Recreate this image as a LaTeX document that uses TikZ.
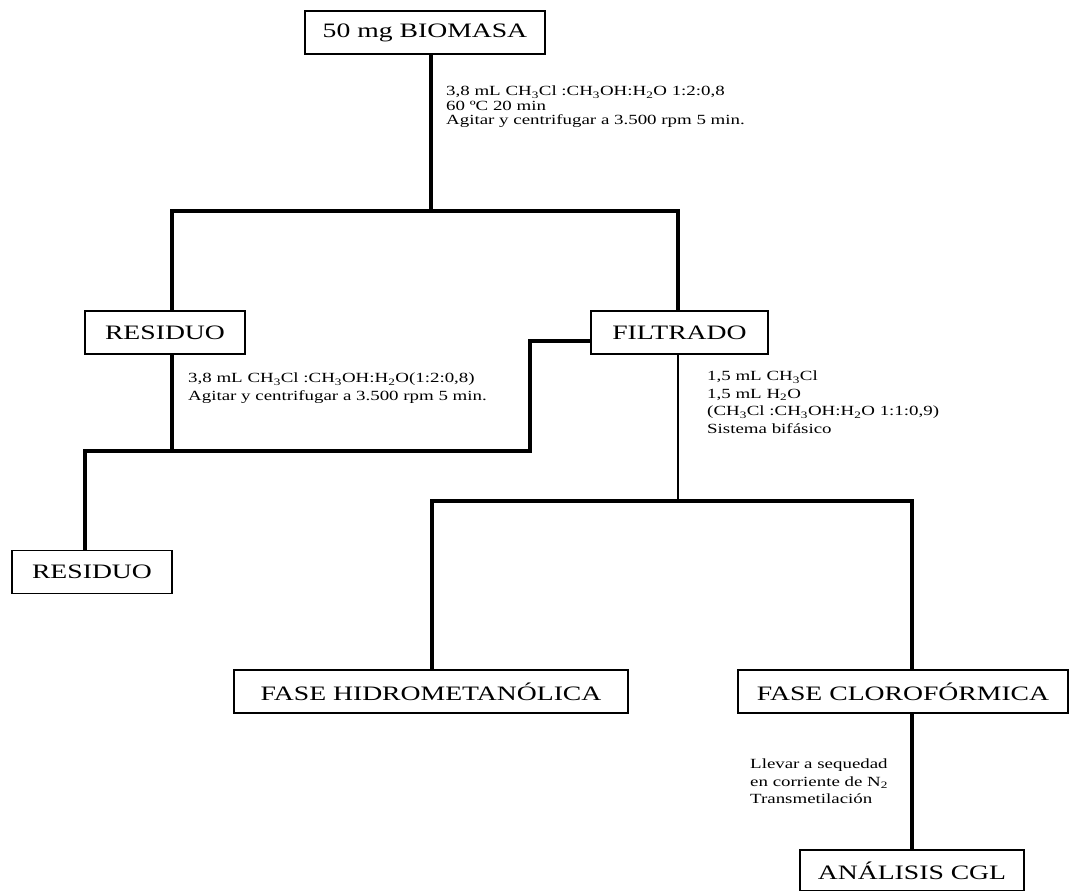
\documentclass[tikz,border=0pt]{standalone}
\usepackage{fontspec}
\setmainfont{Liberation Serif}[FakeStretch=1.35]
\newcommand{\ix}[1]{\textsubscript{#1}}
\begin{document}
\begin{tikzpicture}
  [x=1pt,y=-1pt,
   box/.style={draw=black,line width=1.2pt,inner sep=0pt,minimum height=43pt,font=\fontsize{20.5}{24}\selectfont},
   note/.style={anchor=north west,align=left,inner sep=0pt,font=\fontsize{14}{17.5}\selectfont},
   link/.style={line width=4.5pt,line join=miter}]
\useasboundingbox (0,0) rectangle (1071,891);
  \node[box,minimum width=240pt] (bio) at (425,32.5) {50 mg BIOMASA};
  \node[box,minimum width=160pt] (res1) at (165,332.5) {RESIDUO};
  \node[box,minimum width=177pt] (fil) at (679.5,332.5) {FILTRADO};
  \node[box,minimum width=160pt] (res2) at (92,572) {RESIDUO};
  \node[box,minimum width=394pt] (hidro) at (431,691.5) {FASE HIDROMETANÓLICA};
  \node[box,minimum width=330pt] (clorof) at (903,691.5) {FASE CLOROFÓRMICA};
  \node[box,minimum width=224pt,minimum height=41pt] (ana) at (912,870.5) {ANÁLISIS CGL};

  % elbows of the connectors
  \coordinate (t1) at (431,211);
  \coordinate (t2) at (172,451);
  \coordinate (t5) at (85,451);
  \coordinate (t3) at (530,341);
  \coordinate (t4) at (678,501);
  \coordinate (t6) at (432,501);
  \coordinate (t7) at (912,501);

  \draw[link] (bio.south -| t1) -- (t1);
  \draw[link] (res1.north -| t2) |- (t1) -| (fil.north -| t4);
  \draw[link] (res1.south -| t2) -- (t2);
  \draw[link] (res2.north -| t5) -- (t5) -| (t3) -- (fil.west |- t3);
  \draw[link,line width=2.5pt] (fil.south -| t4) -- (t4);
  \draw[link] (hidro.north -| t6) -- (t6) -- (t7) -- (clorof.north -| t7);
  \draw[link] (clorof.south -| t7) -- (ana.north -| t7);

  \node[note,font=\fontsize{14}{14.5}\selectfont] (n1) at (446,86)
    {3,8 mL CH\ix{3}Cl :CH\ix{3}OH:H\ix{2}O 1:2:0,8\\60 ºC 20 min\\Agitar y centrifugar a 3.500 rpm 5 min.};
  \node[note] (n2) at (188,373)
    {3,8 mL CH\ix{3}Cl :CH\ix{3}OH:H\ix{2}O(1:2:0,8)\\Agitar y centrifugar a 3.500 rpm 5 min.};
  \node[note] (n3) at (707,371)
    {1,5 mL CH\ix{3}Cl\\1,5 mL H\ix{2}O\\(CH\ix{3}Cl :CH\ix{3}OH:H\ix{2}O 1:1:0,9)\\Sistema bifásico};
  \node[note] (n4) at (750,759)
    {Llevar a sequedad\\en corriente de N\ix{2}\\Transmetilación};
\end{tikzpicture}
\end{document}
